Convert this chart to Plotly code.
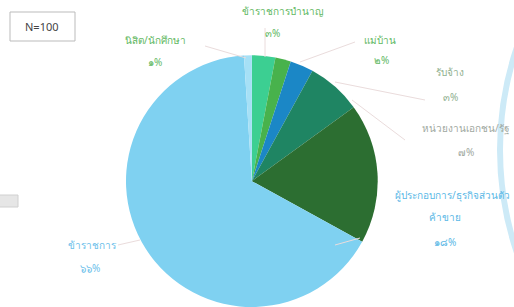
import plotly.graph_objects as go

W, H = 514, 307

# Data (clockwise from 12 o'clock)
categories = ["ข้าราชการบำนาญ", "แม่บ้าน", "รับจ้าง", "พนักงานบริษัทเอกชน",
              "ผู้ประกอบการ/ธุรกิจส่วนตัว/ค้าขาย", "ข้าราชการ", "นิสิต/นักศึกษา"]
values = [3, 2, 3, 7, 18, 66, 1]
pct_labels = ["๓%", "๒%", "๓%", "๗%", "๑๘%", "๖๖%", "๑%"]
colors = ["#3ccf92", "#48b24c", "#1b87c6", "#1f8563", "#2c6e31", "#7fd1f1", "#a6e0f6"]

fig = go.Figure(go.Pie(
    labels=categories, values=values, sort=False, direction="clockwise",
    rotation=0, marker=dict(colors=colors, line=dict(width=0)),
    textinfo="none", hoverinfo="label+percent", showlegend=False,
    domain=dict(x=[0.245, 0.735], y=[0.0, 0.82]),
))

def px(x, y):
    return x / W, 1 - y / H

FONT = "Noto Sans, DejaVu Sans, sans-serif"
# (x, y, anchor, text or None for the percentage)
label_pos = {
    "นิสิต/นักศึกษา": [(155, 40, "center", "นิสิต/นักศึกษา"), (155, 62, "center", None)],
    "ข้าราชการบำนาญ": [(283, 11, "center", "ข้าราชการบำนาญ"), (272, 33, "center", None)],
    "แม่บ้าน": [(380, 40, "center", "แม่บ้าน"), (381, 60, "center", None)],
    "รับจ้าง": [(450, 72, "center", "รับจ้าง"), (450, 97, "center", None)],
    "พนักงานบริษัทเอกชน": [(512, 128, "right", "หน่วยงานเอกชน/รัฐ"), (466, 152, "center", None)],
    "ผู้ประกอบการ/ธุรกิจส่วนตัว/ค้าขาย": [(512, 195, "right", "ผู้ประกอบการ/ธุรกิจส่วนตัว"),
                                         (445, 217, "center", "ค้าขาย"), (445, 242, "center", None)],
    "ข้าราชการ": [(92, 245, "center", "ข้าราชการ"), (90, 268, "center", None)],
}
label_colors = {
    "นิสิต/นักศึกษา": "#62b862", "ข้าราชการบำนาญ": "#62b862", "แม่บ้าน": "#62b862",
    "รับจ้าง": "#8fb08f", "พนักงานบริษัทเอกชน": "#a0a8a0",
    "ผู้ประกอบการ/ธุรกิจส่วนตัว/ค้าขาย": "#5ab8e6", "ข้าราชการ": "#6cc0ea",
}
annotations = []
for cat, pct in zip(categories, pct_labels):
    for x, y, anc, txt in label_pos[cat]:
        ax_, ay_ = px(x, y)
        annotations.append(dict(
            x=ax_, y=ay_, xref="paper", yref="paper", showarrow=False,
            text=txt if txt is not None else pct,
            font=dict(family=FONT, size=10, color=label_colors[cat]),
            xanchor=anc, yanchor="middle"))

# N box
annotations.append(dict(x=px(42, 26)[0], y=px(42, 26)[1], xref="paper", yref="paper",
                        showarrow=False, text="N=100", xanchor="center", yanchor="middle",
                        font=dict(family=FONT, size=11, color="#444444")))

shapes = []
def rect(x0, y0, x1, y1, **kw):
    a = px(x0, y0); b = px(x1, y1)
    shapes.append(dict(type="rect", xref="paper", yref="paper",
                       x0=a[0], y0=b[1], x1=b[0], y1=a[1], **kw))

rect(10, 12, 75, 41, line=dict(color="#bbbbbb", width=1), fillcolor="rgba(0,0,0,0)")
rect(-5, 195, 18, 207, line=dict(color="#d0d0d0", width=1), fillcolor="#e6e6e6")

# leader lines
def line(x0, y0, x1, y1):
    a = px(x0, y0); b = px(x1, y1)
    shapes.append(dict(type="line", xref="paper", yref="paper",
                       x0=a[0], y0=a[1], x1=b[0], y1=b[1],
                       line=dict(color="#eadcdc", width=1)))

line(205, 46, 246, 58)
line(265, 28, 265, 57)
line(300, 62, 355, 42)
line(335, 82, 425, 100)
line(352, 100, 405, 140)
line(335, 245, 360, 238)
line(118, 245, 140, 240)

# decorative background arc on the right
shapes.append(dict(type="circle", xref="paper", yref="paper",
                   x0=500 / W, x1=1100 / W, y0=1 - 460 / H, y1=1 - (-160) / H,
                   line=dict(color="#cdeaf7", width=6), layer="below"))

fig.update_layout(
    width=W, height=H, margin=dict(l=0, r=0, t=0, b=0),
    paper_bgcolor="white", plot_bgcolor="white",
    annotations=annotations, shapes=shapes,
)
fig.write_html("out.html", post_script="document.body.style.margin='0';",
               config={"displayModeBar": False})
